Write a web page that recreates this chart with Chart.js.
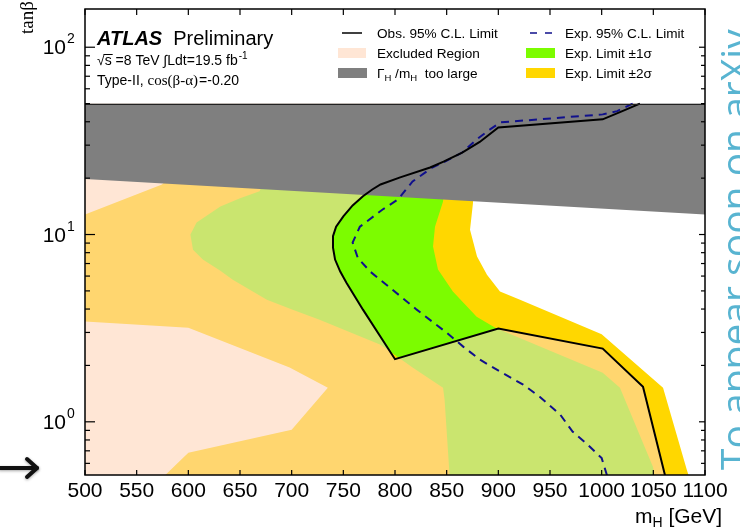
<!DOCTYPE html>
<html>
<head>
<meta charset="utf-8">
<script src="https://cdn.jsdelivr.net/npm/chart.js@4.4.1/dist/chart.umd.min.js"></script>
<style>
  html, body { margin: 0; padding: 0; background: #fff; }
  #wrap { width: 740px; height: 528px; position: relative; }
</style>
</head>
<body>
<div id="wrap"><canvas id="c" width="740" height="528"></canvas></div>
<script>
// Type-II 2HDM, cos(beta-alpha) = -0.20 : excluded regions in the (mH, tan beta) plane

const massRange = [500, 1100];   // mH axis [GeV]
const massStep = 50;
const tanbRange = [0.52, 160];   // tan beta axis (log)
const tanbLabels = [1, 10, 100]; // labelled decades
const scanTop = 50;              // upper edge of the tan beta scan

// observed 95% CL limit contour, [mH, tan beta]
const obsLimit = [
  [1037, 50], [1020, 45.6], [1001, 41.2], [900, 37.3], [882, 31.2], [865, 27.4],
  [847, 24.5], [834, 22.8], [805, 20.2], [786, 18.5], [778, 17.4], [769, 16.0],
  [759, 14.3], [750, 12.5], [743, 11.0], [740, 9.8], [740, 8.5], [742, 7.35],
  [747, 6.34], [753, 5.53], [769, 3.97], [800, 2.16], [900, 3.15], [1001, 2.46],
  [1040, 1.54], [1062, 0.5]
];

// expected 95% CL limit contour
const expLimit = [
  [1030, 50], [1015, 45.6], [1001, 43.8], [902, 39.7], [892, 36.4], [879, 32.2],
  [865, 27.4], [847, 24.3], [836, 22.8], [817, 19.2], [803, 15.4], [788, 13.6],
  [766, 11.0], [759, 9.06], [764, 7.5], [776, 6.34], [795, 5.21], [821, 3.97],
  [850, 2.99], [866, 2.52], [882, 2.15], [902, 1.85], [924, 1.58], [940, 1.36],
  [960, 1.09], [972, 0.885], [986, 0.76], [1000, 0.64], [1006, 0.5]
];

// +-1 sigma band edges (listed from high to low tan beta)
const sigma1Left = [
  [680, 25], [669, 17], [650, 15.6], [631, 14.1], [608, 11.6], [602, 10],
  [604.5, 8.3], [614, 7.35], [631, 6.4], [643, 5.74], [676, 4.49], [701, 3.97],
  [727, 3.51], [786, 2.58], [817, 1.95], [846.5, 1.52], [848, 1.31], [853, 0.5]
];
const sigma1Right = [
  [850, 25], [846.5, 15], [838.7, 11], [836.8, 8.63], [841.6, 6.5], [856, 4.96],
  [879, 3.64], [897, 3.18], [901.6, 3.1], [1001, 1.83], [1017.7, 1.52],
  [1049.7, 0.574], [1051.6, 0.5]
];

// +-2 sigma band edges
const sigma2Left = [
  [600, 25], [574.5, 18.5], [500, 12.8], [500, 3.43], [600, 3.18], [698, 1.95],
  [735, 1.52], [700, 0.906], [600, 0.683], [574.5, 0.5]
];
const sigma2Right = [
  [877, 25], [875.5, 14.8], [872.6, 10.6], [879.4, 7.63], [889, 6.1], [901.6, 4.96],
  [921, 4.49], [1000, 2.93], [1059.4, 1.52], [1082.6, 0.55], [1085, 0.5]
];

// lower edge of the region where Gamma_H / mH is too large
const wideWidthEdge = [[500, 19.8], [1100, 12.8]];

const COLORS = {
  sigma2: '#FFD700',
  sigma1: '#7CFC00',
  excluded: 'rgba(255, 213, 185, 0.6)',
  excludedKey: '#FFE6D5',
  width: '#7F7F7F',
  obs: '#000000',
  exp: '#10108C'
};

const SANS = '"Liberation Sans", Arial, Helvetica, sans-serif';
const SERIF = '"Liberation Serif", "Times New Roman", serif';

const toPts = arr => arr.map(([x, y]) => ({ x, y }));
const region = (label, path, color, order) => ({
  label, data: toPts(path), fill: 'shape', backgroundColor: color,
  borderWidth: 0, pointRadius: 0, tension: 0, order
});

const lastObs = obsLimit[obsLimit.length - 1];
const excludedPath = [[massRange[0], scanTop], ...obsLimit, [massRange[0], lastObs[1]]];
const widthPath = [[massRange[0], scanTop], ...wideWidthEdge, [massRange[1], scanTop]];
const band1Path = [...sigma1Left, ...sigma1Right.slice().reverse()];
const band2Path = [...sigma2Left, ...sigma2Right.slice().reverse()];

function seg(ctx, x1, y1, x2, y2) {
  ctx.beginPath(); ctx.moveTo(x1, y1); ctx.lineTo(x2, y2); ctx.stroke();
}
function txt(ctx, s, x, y, font, color) {
  ctx.font = font; ctx.fillStyle = color || '#000'; ctx.textAlign = 'left';
  ctx.textBaseline = 'alphabetic'; ctx.fillText(s, x, y);
  return x + ctx.measureText(s).width;
}

const frame = {
  id: 'frame',
  afterDatasetsDraw(chart) {
    const { ctx, chartArea: a, scales: { x, y } } = chart;
    ctx.save();
    // bottom edge of the key box
    ctx.strokeStyle = '#222'; ctx.lineWidth = 1;
    const yt = Math.round(y.getPixelForValue(scanTop)) + 0.5;
    seg(ctx, a.left, yt, a.right, yt);

    ctx.strokeStyle = '#000'; ctx.lineWidth = 1.2;
    // mass ticks, bottom and top
    for (const t of x.ticks) {
      const px = x.getPixelForValue(t.value);
      seg(ctx, px, a.bottom, px, a.bottom - 5);
      seg(ctx, px, a.top, px, a.top + 6);
    }
    // tan beta ticks, left and right
    for (let d = 0.1; d <= 100; d *= 10) {
      for (let m = 1; m <= 9; m++) {
        const v = m * d;
        if (v < tanbRange[0] || v > tanbRange[1]) continue;
        const py = y.getPixelForValue(v);
        const major = m === 1;
        seg(ctx, a.left, py, a.left + (major ? 10 : 5), py);
        seg(ctx, a.right, py, a.right - (major ? 6 : 4), py);
      }
    }
    ctx.lineWidth = 1.5;
    ctx.strokeRect(a.left, a.top, a.right - a.left, a.bottom - a.top);
    ctx.restore();
  },
  afterDraw(chart) {
    const { ctx, chartArea: a, scales: { y } } = chart;
    ctx.save();

    // tan beta labels 10^n
    for (const v of tanbLabels) {
      const py = y.getPixelForValue(v);
      ctx.font = `21px ${SANS}`; ctx.textAlign = 'right'; ctx.fillStyle = '#000';
      ctx.textBaseline = 'alphabetic';
      ctx.fillText('10', a.left - 19, py + 7);
      ctx.font = `14px ${SANS}`; ctx.textAlign = 'left';
      ctx.fillText(String(Math.round(Math.log10(v))), a.left - 18, py - 4);
    }

    // axis titles
    ctx.save();
    ctx.translate(33, 34); ctx.rotate(-Math.PI / 2);
    txt(ctx, 'tanβ', 0, 0, `19px ${SERIF}`);
    ctx.restore();
    let xx = txt(ctx, 'm', 635, 523, `21px ${SANS}`);
    xx = txt(ctx, 'H', xx, 527, `14px ${SANS}`);
    txt(ctx, ' [GeV]', xx, 523, `21px ${SANS}`);

    // experiment label
    xx = txt(ctx, 'ATLAS', 97, 45, `italic bold 20px ${SANS}`);
    txt(ctx, 'Preliminary', xx + 11, 45, `20px ${SANS}`);
    const f14 = `14px ${SANS}`;
    xx = txt(ctx, '√', 97, 65, f14);
    const sx = xx;
    xx = txt(ctx, 's', xx, 65, f14);
    ctx.strokeStyle = '#000'; ctx.lineWidth = 1;
    seg(ctx, sx - 1, 54.5, xx + 1, 54.5);
    xx = txt(ctx, ' =8 TeV ', xx, 65, f14);
    xx = txt(ctx, '∫', xx, 65, f14);
    xx = txt(ctx, 'Ldt=19.5 fb', xx, 65, f14);
    txt(ctx, '-1', xx + 1, 59, `10px ${SANS}`);
    xx = txt(ctx, 'Type-II, ', 97, 85, f14);
    xx = txt(ctx, 'cos(β-α)', xx, 85, `15px ${SERIF}`);
    txt(ctx, '=-0.20', xx + 1, 85, f14);

    // key
    const lf = `13.6px ${SANS}`;
    ctx.strokeStyle = COLORS.obs; ctx.lineWidth = 1.5;
    seg(ctx, 342, 33, 362, 33);
    txt(ctx, 'Obs. 95% C.L. Limit', 377, 38, lf);
    ctx.fillStyle = COLORS.excludedKey; ctx.fillRect(338, 48, 28, 10);
    txt(ctx, 'Excluded Region', 377, 58, lf);
    ctx.fillStyle = COLORS.width; ctx.fillRect(338, 68, 29, 10);
    xx = txt(ctx, 'Γ', 377, 78, lf);
    xx = txt(ctx, 'H', xx, 81, `9.5px ${SANS}`);
    xx = txt(ctx, ' /m', xx, 78, lf);
    xx = txt(ctx, 'H', xx, 81, `9.5px ${SANS}`);
    txt(ctx, '  too large', xx, 78, lf);

    ctx.strokeStyle = COLORS.exp; ctx.lineWidth = 1.5; ctx.setLineDash([7, 8]);
    seg(ctx, 530, 33, 552, 33);
    ctx.setLineDash([]);
    txt(ctx, 'Exp. 95% C.L. Limit', 565, 38, lf);
    ctx.fillStyle = COLORS.sigma1; ctx.fillRect(526, 48, 29, 10);
    txt(ctx, 'Exp. Limit ±1σ', 565, 58, lf);
    ctx.fillStyle = COLORS.sigma2; ctx.fillRect(526, 68, 29, 10);
    txt(ctx, 'Exp. Limit ±2σ', 565, 78, lf);

    // side marker arrow
    ctx.strokeStyle = '#111'; ctx.lineWidth = 4; ctx.lineCap = 'round'; ctx.lineJoin = 'round';
    ctx.shadowColor = 'rgba(0,0,0,0.35)'; ctx.shadowBlur = 3; ctx.shadowOffsetY = 1;
    const ay = a.bottom - 7;
    seg(ctx, 0, ay, 37, ay);
    ctx.beginPath(); ctx.moveTo(27, ay - 9); ctx.lineTo(37, ay); ctx.lineTo(27, ay + 9); ctx.stroke();
    ctx.shadowColor = 'transparent'; ctx.shadowBlur = 0; ctx.shadowOffsetY = 0;

    // vertical notice
    ctx.save();
    ctx.translate(749, 470); ctx.rotate(-Math.PI / 2);
    txt(ctx, 'To appear soon on arXiv', 0, 0, `39px "Open Sans", ${SANS}`, '#58B4D1');
    ctx.restore();

    ctx.restore();
  }
};

new Chart(document.getElementById('c'), {
  type: 'line',
  data: {
    datasets: [
      { label: 'Obs. 95% C.L. Limit', data: toPts(obsLimit), borderColor: COLORS.obs,
        borderWidth: 2, pointRadius: 0, fill: false, tension: 0, order: 0 },
      { label: 'Exp. 95% C.L. Limit', data: toPts(expLimit), borderColor: COLORS.exp,
        borderWidth: 2, borderDash: [8, 6], pointRadius: 0, fill: false, tension: 0, order: 1 },
      region('Gamma_H/m_H too large', widthPath, COLORS.width, 2),
      region('Excluded Region', excludedPath, COLORS.excluded, 3),
      region('Exp. Limit ±1σ', band1Path, COLORS.sigma1, 4),
      region('Exp. Limit ±2σ', band2Path, COLORS.sigma2, 5)
    ]
  },
  options: {
    responsive: false,
    devicePixelRatio: 1,
    animation: false,
    events: [],
    layout: { padding: { left: 85, right: 35, top: 9, bottom: 0 } },
    plugins: { legend: { display: false }, tooltip: { enabled: false } },
    scales: {
      x: {
        type: 'linear', min: massRange[0], max: massRange[1],
        grid: { display: false, drawTicks: false },
        border: { display: false },
        ticks: {
          stepSize: massStep, autoSkip: false, maxRotation: 0, padding: 4,
          color: '#000', font: { family: SANS, size: 21 },
          callback: v => String(v)
        },
        afterFit(s) { s.height = 53; }
      },
      y: {
        type: 'logarithmic', min: tanbRange[0], max: tanbRange[1], display: false
      }
    }
  },
  plugins: [frame]
});
</script>
</body>
</html>
